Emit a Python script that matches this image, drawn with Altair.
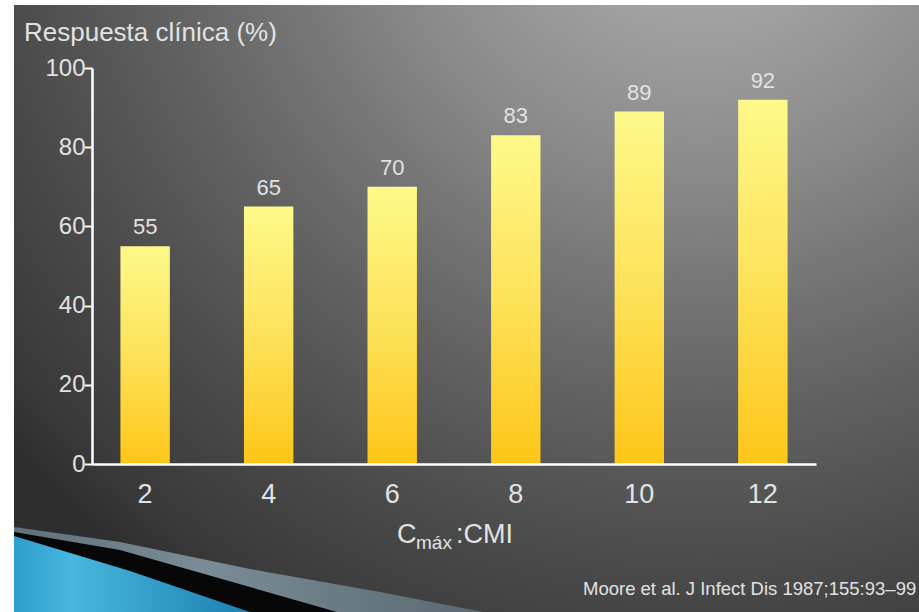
import altair as alt
import pandas as pd

# ---------------- data ----------------
ratio_labels = ["2", "4", "6", "8", "10", "12"]
response_pct = [55, 65, 70, 83, 89, 92]
y_ticks = [0, 20, 40, 60, 80, 100]

y_title = "Respuesta clínica (%)"
x_title_main = "C"
x_title_sub = "máx"
x_title_rest = ":CMI"
citation = "Moore et al. J Infect Dis 1987;155:93–99"

df = pd.DataFrame({"ratio": ratio_labels, "resp": response_pct})
one = pd.DataFrame({"k": [0]})

# ---------------- layout ----------------
W, H = 919, 612
OX, OY = 92, 68          # plot origin in canvas px
PW, PH = 724, 396        # plot size
FONT = "Liberation Sans, Arial, sans-serif"
TXT = "#e2e2e2"

def stops(pairs):
    return [alt.GradientStop(color=c, offset=o) for o, c in pairs]

# slide background (radial grey)
bg = alt.Chart(one).mark_rect(
    fill=alt.RadialGradient(
        gradient="radial", x1=0.76, y1=0.0, x2=0.76, y2=0.0, r1=0, r2=1,
        stops=stops([(0, "#aaaaaa"), (0.15, "#a5a5a5"), (0.35, "#8a8a8a"),
                     (0.6, "#636363"), (0.8, "#494949"), (0.95, "#383838"),
                     (1, "#2e2e2e")]),
    )
).encode(x=alt.value(14 - OX), x2=alt.value(W - OX),
         y=alt.value(5 - OY), y2=alt.value(H - OY))

def rel(pts):
    return " ".join(f"{'M' if i == 0 else 'L'}{x - OX},{y - OY}" for i, (x, y) in enumerate(pts)) + " Z"

gray_path = rel([(14, 527), (120, 542), (250, 569), (380, 592), (483, 612),
                 (483, 640), (14, 640)])
black_path = rel([(14, 532), (120, 550), (250, 587), (337, 612),
                  (337, 640), (14, 640)])
blue_path = rel([(14, 536), (130, 571), (250, 612), (250, 640), (14, 640)])

def deco(path, fill):
    return alt.Chart(one).mark_point(
        shape=path, size=4, filled=True, fill=fill, strokeWidth=0, opacity=1
    ).encode(x=alt.value(0), y=alt.value(0))

gray = deco(gray_path, alt.LinearGradient(
    gradient="linear", x1=0, y1=0, x2=1, y2=0,
    stops=stops([(0, "#5f7079"), (0.4, "#7a8d97"), (1, "#5a6870")])))
black = deco(black_path, "#070707")
blue = deco(blue_path, alt.LinearGradient(
    gradient="linear", x1=0, y1=0, x2=1, y2=0,
    stops=stops([(0, "#2d9dcb"), (0.25, "#47b7df"), (1, "#1c80b0")])))

# ---------------- bars ----------------
base = alt.Chart(df).encode(
    x=alt.X("ratio:N", sort=ratio_labels,
            scale=alt.Scale(paddingInner=0.6, paddingOuter=0.23),
            axis=alt.Axis(title=None, labelAngle=0, ticks=False, tickSize=0,
                          domainColor="white", domainWidth=2.5,
                          labelFont=FONT, labelFontSize=27, labelColor=TXT,
                          labelPadding=17, zindex=1)),
    y=alt.Y("resp:Q", scale=alt.Scale(domain=[0, 100]),
            axis=alt.Axis(title=None, values=y_ticks, grid=False,
                          tickSize=8, tickColor="white", tickWidth=2,
                          domainColor="white", domainWidth=2.5,
                          labelFont=FONT, labelFontSize=24, labelColor=TXT,
                          labelPadding=-1, zindex=1)),
)

bars = base.mark_bar(
    fill=alt.LinearGradient(
        gradient="linear", x1=0, y1=0, x2=0, y2=1,
        stops=stops([(0, "#fdf98a"), (0.5, "#fde25a"), (1, "#fdc618")]))
)

values = base.mark_text(
    dy=-12, baseline="alphabetic", font=FONT, fontSize=22, color=TXT
).encode(text="resp:Q")

def label(txt, x, y, size, align="left"):
    return alt.Chart(one).mark_text(
        font=FONT, fontSize=size, color=TXT, align=align, baseline="alphabetic"
    ).encode(x=alt.value(x - OX), y=alt.value(y - OY), text=alt.value(txt))

t_y = label(y_title, 24, 41, 26)
t_c = label(x_title_main, 397, 543, 27)
t_sub = label(x_title_sub, 416, 549, 19)
t_rest = label(x_title_rest, 456, 543, 27)
t_cite = label(citation, 583, 595, 18.5)

chart = alt.layer(
    bg, gray, black, blue, bars, values, t_y, t_c, t_sub, t_rest, t_cite
).properties(
    width=PW, height=PH,
    autosize=alt.AutoSizeParams(type="none"),
    padding={"left": OX, "top": OY, "right": W - OX - PW, "bottom": H - OY - PH},
    background="white",
).configure_view(stroke=None)

chart.save("out.html", embed_options={"renderer": "svg", "actions": False})
